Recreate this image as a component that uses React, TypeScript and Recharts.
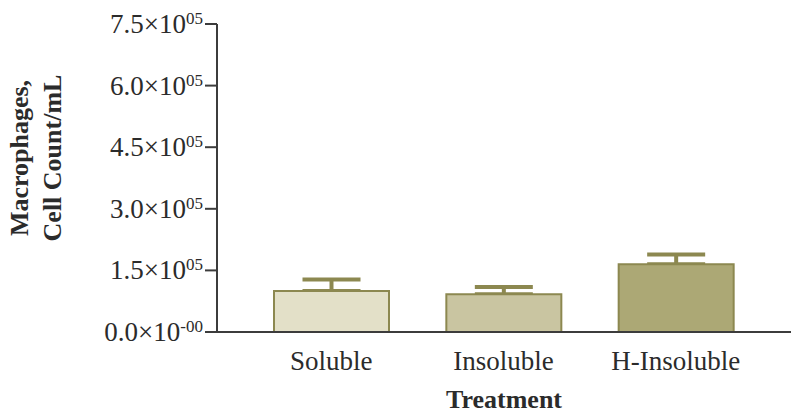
import { BarChart, Bar, XAxis, YAxis, ErrorBar, Cell } from "recharts"

const categories = ["Soluble", "Insoluble", "H-Insoluble"]
const means = [100000, 92000, 165000]
const sem = [28000, 17500, 23500]
const yTicks = [0, 150000, 300000, 450000, 600000, 750000]

const barFills = ["#e3e0c8", "#c9c5a1", "#aca875"]
const olive = "#8c8850"
const axisColor = "#3c3c3c"
const textColor = "#2b2b2b"
const font = "'Liberation Serif', 'Times New Roman', serif"

const chartData = categories.map((name, i) => ({
  name,
  value: means[i],
  err: [0, sem[i]],
}))

function YTick({ x, y, payload }: any) {
  const v = payload.value as number
  const mant = (v / 100000).toFixed(1)
  const exp = v === 0 ? "-00" : "05"
  return (
    <text x={x} y={y + 9} textAnchor="end" fontFamily={font} fontSize={27} fill={textColor}>
      <tspan>{mant}×10</tspan>
      <tspan dy={-9} fontSize={17}>
        {exp}
      </tspan>
    </text>
  )
}

function XTick({ x, y, payload }: any) {
  return (
    <text x={x} y={y + 36} textAnchor="middle" fontFamily={font} fontSize={27} fill={textColor}>
      {payload.value}
    </text>
  )
}

function YLabel({ viewBox }: any) {
  const cy = viewBox.y + viewBox.height / 2 - 20
  return (
    <g fontFamily={font} fontSize={26} fontWeight="bold" fill={textColor}>
      <text x={28} y={cy} textAnchor="middle" transform={`rotate(-90, 28, ${cy})`}>
        Macrophages,
      </text>
      <text x={61} y={cy} textAnchor="middle" transform={`rotate(-90, 61, ${cy})`}>
        Cell Count/mL
      </text>
    </g>
  )
}

function XLabel({ viewBox }: any) {
  return (
    <text
      x={viewBox.x + viewBox.width / 2}
      y={viewBox.y + 76}
      textAnchor="middle"
      fontFamily={font}
      fontSize={26}
      fontWeight="bold"
      fill={textColor}
    >
      Treatment
    </text>
  )
}

export default function App() {
  return (
    <div style={{ position: "absolute", left: 0, top: 0, width: 800, height: 418, background: "#fff" }}>
      <BarChart
        width={800}
        height={418}
        data={chartData}
        barGap={-115}
        margin={{ top: 24, right: 9, left: 0, bottom: 0 }}
      >
        <XAxis
          dataKey="name"
          height={86}
          padding={{ left: 28, right: 29 }}
          axisLine={{ stroke: axisColor, strokeWidth: 2 }}
          tickLine={false}
          tickSize={0}
          tick={<XTick />}
          interval={0}
          label={<XLabel />}
        />
        <YAxis
          width={217}
          domain={[0, 750000]}
          ticks={yTicks}
          interval={0}
          axisLine={{ stroke: axisColor, strokeWidth: 2 }}
          tickLine={{ stroke: axisColor, strokeWidth: 2 }}
          tickSize={12}
          tickMargin={2}
          tick={<YTick />}
          label={<YLabel />}
        />
        {/* error bars carried by an invisible bar, kept under the real bars */}
        <Bar dataKey="value" barSize={115} fill="none" stroke="none" isAnimationActive={false}>
          <ErrorBar
            dataKey="err"
            direction="y"
            width={29}
            stroke={olive}
            strokeWidth={4}
            zIndex={200}
            isAnimationActive={false}
          />
        </Bar>
        <Bar dataKey="value" barSize={115} stroke={olive} strokeWidth={2} zIndex={450} isAnimationActive={false}>
          {chartData.map((d, i) => (
            <Cell key={d.name} fill={barFills[i]} />
          ))}
        </Bar>
      </BarChart>
    </div>
  )
}
